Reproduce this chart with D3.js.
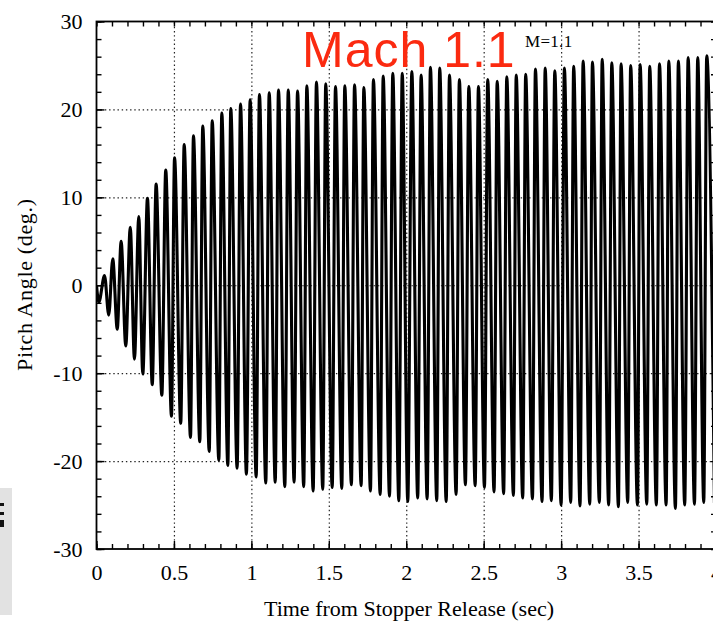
<!DOCTYPE html>
<html>
<head>
<meta charset="utf-8">
<script src="https://cdn.jsdelivr.net/npm/d3@7"></script>
<style>
  body { margin: 0; background: #fff; }
  svg { display: block; }
  .tick text { font-family: "Liberation Serif", "Times New Roman", serif; font-size: 22px; fill: #000; }
  .grid line { stroke: #222; stroke-width: 1.2; stroke-dasharray: 1.4 2.8; }
  .grid path { display: none; }
  .minor path, .major path { display: none; }
  .minor line, .major line { stroke: #000; stroke-width: 1.4; }
</style>
</head>
<body>
<div id="chart"></div>
<script>
// pitch angle trace: tip of each spike (sec, deg)
var peakTime = [0.052, 0.105, 0.159, 0.218, 0.273, 0.329, 0.385, 0.447, 0.504, 0.566,
  0.626, 0.686, 0.747, 0.809, 0.867, 0.930, 0.992, 1.052, 1.115, 1.175,
  1.238, 1.298, 1.358, 1.420, 1.480, 1.543, 1.603, 1.666, 1.726, 1.788,
  1.851, 1.913, 1.974, 2.036, 2.096, 2.156, 2.216, 2.279, 2.343, 2.404,
  2.466, 2.526, 2.587, 2.649, 2.710, 2.771, 2.834, 2.897, 2.959, 3.021,
  3.081, 3.142, 3.202, 3.265, 3.327, 3.387, 3.449, 3.510, 3.572, 3.635,
  3.695, 3.757, 3.820, 3.882, 3.940];
var peakDeg = [1.1, 3.0, 5.0, 6.6, 7.8, 9.9, 11.5, 13.1, 14.5, 16.0,
  17.0, 18.1, 18.7, 19.6, 20.1, 20.6, 21.1, 21.7, 21.9, 22.2,
  22.2, 22.1, 22.7, 23.1, 22.9, 22.6, 22.7, 22.8, 22.5, 23.4,
  23.8, 24.1, 24.1, 24.3, 23.9, 24.8, 24.7, 23.9, 23.4, 22.6,
  22.6, 23.4, 23.2, 23.7, 23.9, 24.0, 24.6, 24.7, 24.4, 24.7,
  24.9, 25.5, 25.4, 25.7, 25.3, 25.2, 25.0, 25.1, 24.9, 25.2,
  25.5, 25.5, 25.9, 25.9, 26.1];
var troughTime = [0.015, 0.079, 0.134, 0.189, 0.245, 0.299, 0.360, 0.422, 0.484, 0.544,
  0.607, 0.667, 0.728, 0.790, 0.848, 0.908, 0.968, 1.031, 1.093, 1.154,
  1.216, 1.276, 1.338, 1.399, 1.461, 1.522, 1.584, 1.646, 1.709, 1.769,
  1.832, 1.892, 1.952, 2.010, 2.074, 2.135, 2.197, 2.258, 2.322, 2.382,
  2.445, 2.505, 2.567, 2.629, 2.692, 2.752, 2.815, 2.877, 2.937, 3.000,
  3.062, 3.122, 3.185, 3.247, 3.307, 3.370, 3.430, 3.493, 3.553, 3.615,
  3.678, 3.738, 3.798, 3.861, 3.921, 3.990];
var troughDeg = [-1.9, -3.4, -5.0, -6.9, -8.4, -10.1, -11.3, -12.5, -14.9, -15.7,
  -17.3, -17.8, -18.9, -19.9, -20.5, -20.8, -21.5, -21.8, -22.5, -22.4,
  -22.9, -22.4, -22.9, -23.4, -23.2, -23.0, -23.1, -22.7, -22.8, -23.4,
  -23.8, -24.0, -24.5, -24.6, -24.2, -24.3, -24.5, -24.6, -23.8, -22.7,
  -22.8, -23.0, -23.5, -23.7, -23.9, -24.2, -24.3, -24.6, -24.5, -25.0,
  -24.7, -25.1, -24.9, -24.7, -25.0, -25.2, -24.7, -25.0, -24.9, -25.0,
  -25.0, -25.4, -25.0, -24.9, -24.7, -24.8];
var releaseTime = [0];
var releaseDeg = [0];

var xTicks = [0, 0.5, 1, 1.5, 2, 2.5, 3, 3.5, 4];
var yTicks = [-30, -20, -10, 0, 10, 20, 30];

var width = 713, height = 621;
var plot = { left: 96.5, right: 716, top: 21.5, bottom: 549 };

var svg = d3.select("#chart").append("svg")
    .attr("width", width)
    .attr("height", height);

svg.append("rect").attr("width", width).attr("height", height).attr("fill", "#fff");

var x = d3.scaleLinear().domain([0, 4]).range([plot.left, plot.right]);
var y = d3.scaleLinear().domain([-30, 30]).range([plot.bottom, plot.top]);

svg.append("clipPath").attr("id", "clip")
  .append("rect")
    .attr("x", plot.left).attr("y", plot.top)
    .attr("width", plot.right - plot.left).attr("height", plot.bottom - plot.top);

// dotted grid
svg.append("g").attr("class", "grid")
    .attr("transform", "translate(0," + plot.bottom + ")")
    .call(d3.axisBottom(x).tickValues(xTicks.slice(1, -1)).tickSize(-(plot.bottom - plot.top)).tickFormat(""));
svg.append("g").attr("class", "grid")
    .attr("transform", "translate(" + plot.left + ",0)")
    .call(d3.axisLeft(y).tickValues(yTicks.slice(1, -1)).tickSize(-(plot.right - plot.left)).tickFormat(""));

// trace
var pts = releaseTime.map((t, i) => [t, releaseDeg[i]])
  .concat(peakTime.map((t, i) => [t, peakDeg[i]]))
  .concat(troughTime.map((t, i) => [t, troughDeg[i]]))
  .sort((a, b) => a[0] - b[0]);

var line = d3.line()
    .x(d => x(d[0]))
    .y(d => y(d[1]))
    .curve(d3.curveMonotoneX);

svg.append("path")
    .datum(pts)
    .attr("clip-path", "url(#clip)")
    .attr("fill", "none")
    .attr("stroke", "#000")
    .attr("stroke-width", 3.1)
    .attr("d", line);

// ticks on all four sides, pointing in
var xMinor = d3.range(0, 4.001, 0.1);
var yMinor = d3.range(-30, 30.001, 2);

svg.append("g").attr("class", "minor")
    .attr("transform", "translate(0," + plot.bottom + ")")
    .call(d3.axisBottom(x).tickValues(xMinor).tickSize(-5).tickFormat(""));
svg.append("g").attr("class", "minor")
    .attr("transform", "translate(0," + plot.top + ")")
    .call(d3.axisTop(x).tickValues(xMinor).tickSize(-5).tickFormat(""));
svg.append("g").attr("class", "minor")
    .attr("transform", "translate(" + plot.left + ",0)")
    .call(d3.axisLeft(y).tickValues(yMinor).tickSize(-5).tickFormat(""));
svg.append("g").attr("class", "minor")
    .attr("transform", "translate(" + plot.right + ",0)")
    .call(d3.axisRight(y).tickValues(yMinor).tickSize(-5).tickFormat(""));

svg.append("g").attr("class", "major")
    .attr("transform", "translate(0," + plot.bottom + ")")
    .call(d3.axisBottom(x).tickValues(xTicks).tickSize(-8).tickPadding(15).tickFormat(d3.format("")));
svg.append("g").attr("class", "major")
    .attr("transform", "translate(" + plot.left + ",0)")
    .call(d3.axisLeft(y).tickValues(yTicks).tickSize(-8).tickPadding(14).tickFormat(d => d < 0 ? "-" + Math.abs(d) : d));

// frame
svg.append("rect")
    .attr("x", plot.left).attr("y", plot.top)
    .attr("width", plot.right - plot.left).attr("height", plot.bottom - plot.top)
    .attr("fill", "none").attr("stroke", "#000").attr("stroke-width", 1.8);

// axis titles
svg.append("text")
    .attr("x", 409).attr("y", 616)
    .attr("text-anchor", "middle")
    .attr("font-family", "Liberation Serif, serif")
    .attr("font-size", 22)
    .text("Time from Stopper Release (sec)");

svg.append("text")
    .attr("transform", "translate(32,285) rotate(-90)")
    .attr("text-anchor", "middle")
    .attr("font-family", "Liberation Serif, serif")
    .attr("font-size", 22)
    .attr("textLength", 172)
    .attr("lengthAdjust", "spacing")
    .text("Pitch Angle (deg.)");

// labels
svg.append("text")
    .attr("x", 525).attr("y", 47)
    .attr("font-family", "Liberation Serif, serif")
    .attr("font-size", 17)
    .attr("letter-spacing", 0.3)
    .text("M=1.1");

svg.append("text")
    .attr("x", 302).attr("y", 67)
    .attr("font-family", "Liberation Sans, Arial, sans-serif")
    .attr("font-size", 50)
    .attr("letter-spacing", 1)
    .attr("fill", "#fb2a10")
    .text("Mach 1.1");

// scan margin at lower left
svg.append("rect").attr("x", 0).attr("y", 488).attr("width", 12).attr("height", 127).attr("fill", "#e2e2e2");
svg.append("rect").attr("x", 0).attr("y", 503).attr("width", 4).attr("height", 3).attr("fill", "#111");
svg.append("rect").attr("x", 0).attr("y", 512).attr("width", 4).attr("height", 3).attr("fill", "#111");
svg.append("rect").attr("x", 0).attr("y", 520).attr("width", 4).attr("height", 7).attr("fill", "#111");
</script>
</body>
</html>
